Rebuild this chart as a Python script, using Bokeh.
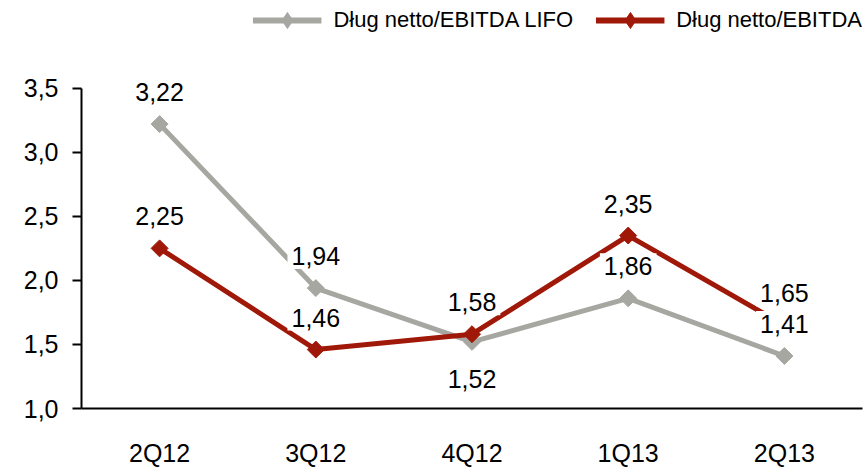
from bokeh.plotting import figure
from bokeh.models import (ColumnDataSource, Range1d, FactorRange, Legend, LegendItem,
                          CustomJSTickFormatter)
from bokeh.core.properties import value
from bokeh.embed import file_html
from bokeh.resources import INLINE

categories = ["2Q12", "3Q12", "4Q12", "1Q13", "2Q13"]
lifo_values = [3.22, 1.94, 1.52, 1.86, 1.41]
ebitda_values = [2.25, 1.46, 1.58, 2.35, 1.65]
lifo_label_pos = ["above", "above", "below", "above", "above"]
ebitda_label_pos = ["above", "above", "above", "above", "above"]
y_ticks = [1.0, 1.5, 2.0, 2.5, 3.0, 3.5]
series_names = ["Dług netto/EBITDA LIFO", "Dług netto/EBITDA"]

GRAY = "#A7A7A2"
RED = "#A01808"
FONT = "Liberation Sans"

p = figure(width=866, height=469, x_range=FactorRange(*categories, range_padding=0),
           y_range=Range1d(1.0, 4.185), output_backend="svg", toolbar_location=None,
           min_border_left=81, min_border_right=4, min_border_top=0, min_border_bottom=60)
p.outline_line_color = None
p.xgrid.grid_line_color = None
p.ygrid.grid_line_color = None

def fmt(v):
    return f"{v:.2f}".replace(".", ",")

def offs(pos):
    return [-32 if q == "above" else 37 for q in pos]

src_l = ColumnDataSource(dict(x=categories, y=lifo_values,
                              text=[fmt(v) for v in lifo_values], yo=offs(lifo_label_pos)))
src_e = ColumnDataSource(dict(x=categories, y=ebitda_values,
                              text=[fmt(v) for v in ebitda_values], yo=offs(ebitda_label_pos)))

p.line("x", "y", source=src_l, line_color=GRAY, line_width=5)
p.scatter("x", "y", source=src_l, marker="square", angle=0.785398, size=12,
          fill_color=GRAY, line_color=GRAY)
p.line("x", "y", source=src_e, line_color=RED, line_width=5)
p.scatter("x", "y", source=src_e, marker="square", angle=0.785398, size=12,
          fill_color=RED, line_color=RED)

for src in (src_l, src_e):
    p.text("x", "y", text="text", y_offset="yo", source=src, text_font=value(FONT),
           text_font_size="25px", text_align="center", text_baseline="middle",
           text_color="black", background_fill_color="white", padding=4)

# legend-only sample glyphs (no visible data)
dummy = ColumnDataSource(dict(x=categories[:1], y=[float("nan")]))
lg1 = p.line("x", "y", source=dummy, line_color=GRAY, line_width=6)
lm1 = p.scatter("x", "y", source=dummy, marker="diamond", fill_color=GRAY, line_color=GRAY)
lg2 = p.line("x", "y", source=dummy, line_color=RED, line_width=6)
lm2 = p.scatter("x", "y", source=dummy, marker="diamond", fill_color=RED, line_color=RED)

legend = Legend(items=[LegendItem(label=series_names[0], renderers=[lg1, lm1]),
                       LegendItem(label=series_names[1], renderers=[lg2, lm2])],
                orientation="horizontal", location="top_right",
                glyph_width=69, glyph_height=40, label_height=40, label_standoff=12, spacing=22,
                padding=2, margin=0, border_line_color=None, background_fill_alpha=0,
                label_text_font=FONT, label_text_font_size="22px", label_text_color="black")
p.add_layout(legend, "center")

p.yaxis.ticker = y_ticks
p.yaxis.bounds = (1.0, 3.5)
p.yaxis.formatter = CustomJSTickFormatter(code="return tick.toFixed(1).replace('.', ',');")
p.yaxis.major_label_text_font = FONT
p.yaxis.major_label_text_font_size = "25px"
p.yaxis.major_label_text_color = "black"
p.yaxis.major_tick_in = 0
p.yaxis.major_tick_out = 9
p.yaxis.minor_tick_line_color = None
p.yaxis.axis_line_width = 2
p.yaxis.major_tick_line_width = 2
p.yaxis.major_label_standoff = 14
p.yaxis.axis_line_color = "black"
p.yaxis.major_tick_line_color = "black"

p.xaxis.major_tick_line_color = None
p.xaxis.major_tick_in = 0
p.xaxis.major_tick_out = 0
p.xaxis.axis_line_width = 2
p.xaxis.axis_line_color = "black"
p.xaxis.major_label_text_font = FONT
p.xaxis.major_label_text_font_size = "25px"
p.xaxis.major_label_text_color = "black"
p.xaxis.major_label_standoff = 30

open("out.html", "w").write(file_html(p, INLINE))
